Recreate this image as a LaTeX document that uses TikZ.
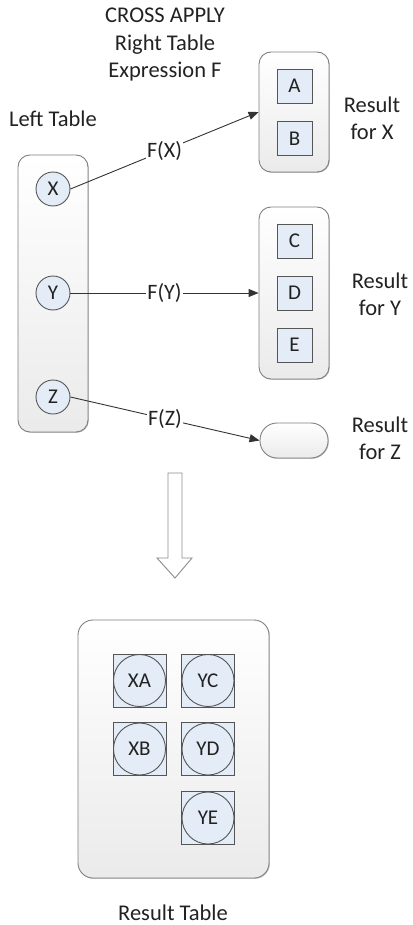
\documentclass[tikz,border=0pt]{standalone}
\usepackage{fontspec}
\setmainfont{Carlito}
\usetikzlibrary{arrows.meta,shadows}
\definecolor{itemfill}{HTML}{E4ECF7}
\definecolor{edgegray}{HTML}{555555}
\definecolor{boxgray}{HTML}{808080}
\definecolor{inkc}{HTML}{222222}
\begin{document}
\begin{tikzpicture}[x=1pt,y=-1pt,
  every node/.style={text=inkc},
  lbl/.style={font=\fontsize{22.5}{27.5}\selectfont, align=center},
  container/.style={draw=boxgray, line width=0.9pt, rounded corners=12pt,
    top color=white, bottom color=black!8, inner sep=0pt,
    drop shadow={shadow xshift=0.8pt, shadow yshift=-0.8pt, opacity=0.25, fill=black}},
  item/.style={circle, draw=edgegray, line width=0.9pt, fill=itemfill,
    minimum size=34pt, inner sep=0pt, font=\fontsize{21}{24}\selectfont},
  sq/.style={rectangle, draw=edgegray, line width=0.9pt, fill=itemfill,
    minimum width=35pt, minimum height=34pt, inner sep=0pt, font=\fontsize{21}{24}\selectfont},
  pair/.style={rectangle, draw=edgegray, line width=0.9pt, fill=itemfill,
    minimum size=53pt, inner sep=0pt, font=\fontsize{21}{24}\selectfont,
    path picture={\draw[edgegray, line width=0.9pt] (path picture bounding box.center) circle[radius=26pt];}},
  conn/.style={draw=black!80, line width=0.9pt, -{Triangle[length=10pt,width=8pt]}},
  flab/.style={midway, fill=white, inner sep=1pt, font=\fontsize{22}{26}\selectfont}
]
\useasboundingbox (0,0) rectangle (412,925);

% title and labels
\node[lbl] (title) at (165,45) {CROSS APPLY\\Right Table\\Expression F};
\node[lbl] (lefttitle) at (53,119) {Left Table};
\node[lbl] (resx) at (372,118.5) {Result\\for X};
\node[lbl] (resy) at (380,294.5) {Result\\for Y};
\node[lbl] (resz) at (380,438.5) {Result\\for Z};
\node[lbl, anchor=base, inner sep=0pt] (restab) at (173,920) {Result Table};

% left table
\node[container, minimum width=70pt, minimum height=277pt] (left) at (53,293.5) {};
\node[item] (X) at (53,189) {X};
\node[item] (Y) at (53,293) {Y};
\node[item] (Z) at (53,397) {Z};

% result containers
\node[container, minimum width=70pt, minimum height=120pt] (rx) at (294,112) {};
\node[sq] (A) at (294.5,86) {A};
\node[sq] (B) at (294.5,138.5) {B};

\node[container, minimum width=70pt, minimum height=172pt] (ry) at (294,293) {};
\node[sq] (C) at (294.5,241) {C};
\node[sq] (D) at (294.5,293) {D};
\node[sq] (E) at (294.5,345) {E};

\node[container, rounded corners=17pt, minimum width=68pt, minimum height=35pt] (rz) at (294,440.5) {};

% connectors
\draw[conn] (X.east) -- (rx.west) node[flab] {F(X)};
\draw[conn] (Y.east) -- (ry.west) node[flab] {F(Y)};
\draw[conn] (Z.east) -- (rz.west) node[flab] {F(Z)};

% hollow down arrow
\draw[draw=black!45, fill=white, line width=0.9pt, line join=miter]
  (168,473) -- (182,473) -- (182,558) -- (192,558) -- (175,578) -- (157,558) -- (168,558) -- cycle;

% result table
\node[container, rounded corners=15pt, minimum width=191pt, minimum height=258pt] (rt) at (173.5,749) {};
\node[pair] (XA) at (139.5,680.5) {XA};
\node[pair] (YC) at (208,680.5) {YC};
\node[pair] (XB) at (139.5,749) {XB};
\node[pair] (YD) at (208,749) {YD};
\node[pair] (YE) at (208,818) {YE};
\end{tikzpicture}
\end{document}
